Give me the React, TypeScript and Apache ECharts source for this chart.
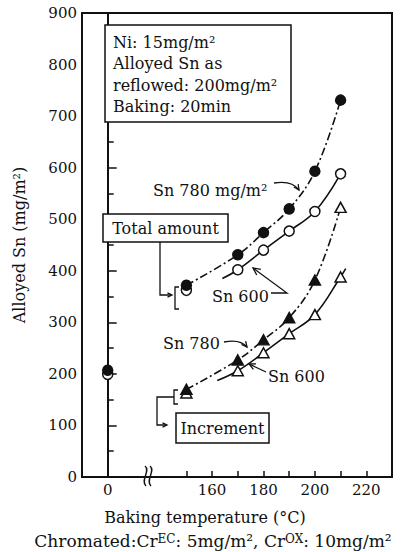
import React, { useEffect, useRef } from 'react';
import * as echarts from 'echarts';

// ---- data ----
const TEMPS = [150, 170, 180, 190, 200, 210];
const TOTAL_780 = [372, 431, 474, 520, 593, 731];
const TOTAL_600 = [362, 402, 440, 477, 515, 588];
const INCR_780 = [170, 227, 266, 309, 382, 523];
const INCR_600 = [163, 206, 241, 278, 315, 388];
const REFLOWED_TEMP = 0;
const REFLOWED_780 = 207;
const REFLOWED_600 = 199;
// where the drawn fitting curves start / end
const TOTAL_600_CURVE_START = [164, 385];
const INCR_600_CURVE_START = [162, 187];
const INCR_600_CURVE_END = [212, 404];

const X_TICKS = [0, 150, 160, 170, 180, 190, 200, 210, 220];
const X_LABELS = [0, 160, 180, 200, 220];
const Y_MIN = 0;
const Y_MAX = 900;
const Y_STEP = 100;

const FONT = 'DejaVu Serif';
const INK = '#111';
const DASHDOT = [8, 3, 2, 3];

const pts = (xs: number[], ys: number[]) => xs.map((x, i) => [x, ys[i]]);

function arrowHead(tx: number, ty: number, fx: number, fy: number, len = 7, ang = 0.45) {
  const a = Math.atan2(fy - ty, fx - tx);
  return {
    type: 'polyline',
    shape: {
      points: [
        [tx + len * Math.cos(a + ang), ty + len * Math.sin(a + ang)],
        [tx, ty],
        [tx + len * Math.cos(a - ang), ty + len * Math.sin(a - ang)],
      ],
    },
    style: { stroke: INK, lineWidth: 1.3, fill: null },
  };
}

function txt(x: number, y: number, text: string, align = 'left', size = 16) {
  return {
    type: 'text',
    x,
    y,
    style: {
      text,
      fill: INK,
      font: `${size}px "${FONT}"`,
      textAlign: align,
      textVerticalAlign: 'middle',
    },
    z: 10,
  };
}

const line = (points: number[][], w = 1.3) => ({
  type: 'polyline',
  shape: { points },
  style: { stroke: INK, lineWidth: w, fill: null },
  z: 10,
});

export default function App() {
  const ref = useRef<HTMLDivElement>(null);
  useEffect(() => {
    if (!ref.current) return;
    const chart = echarts.init(ref.current, undefined, { renderer: 'svg' });
    const axisFont = { color: INK, fontFamily: FONT, fontSize: 15 };

    const curveStyle = (dash: any) => ({
      type: 'line',
      smooth: 0.4,
      symbol: 'none',
      silent: true,
      lineStyle: { color: INK, width: 1.6, type: dash },
      z: 2,
    });

    const scatter = (data: any[], symbol: string, filled: boolean, z = 5) => ({
      type: 'scatter',
      data,
      symbol,
      symbolSize: symbol === 'triangle' ? [11, 10] : 10,
      itemStyle: {
        color: filled ? INK : '#fff',
        borderColor: INK,
        borderWidth: 1.5,
        opacity: 1,
      },
      z,
    });

    const incr780Data = pts(TEMPS, INCR_780).map((p, i) =>
      i === TEMPS.length - 1 ? { value: p, itemStyle: { color: '#fff' } } : { value: p }
    );

    chart.setOption({
      animation: false,
      backgroundColor: '#fff',
      grid: {
        left: 82,
        right: 12,
        top: 13,
        bottom: 75,
        show: true,
        borderColor: INK,
        borderWidth: 2,
        outerBoundsMode: 'none',
      },
      xAxis: {
        type: 'value',
        min: -10,
        max: 230,
        breaks: [{ start: 10, end: 140, gap: '8.8%' }],
        breakArea: { show: false },
        axisLine: { lineStyle: { color: INK, width: 2 } },
        axisTick: {
          inside: true,
          length: 6,
          customValues: X_TICKS,
          lineStyle: { color: INK, width: 1.5 },
        },
        axisLabel: { ...axisFont, margin: 5, customValues: X_LABELS },
        splitLine: { show: false },
      },
      yAxis: {
        type: 'value',
        min: Y_MIN,
        max: Y_MAX,
        interval: Y_STEP,
        name: 'Alloyed Sn (mg/m²)',
        nameLocation: 'middle',
        nameGap: 55,
        nameTextStyle: { ...axisFont, fontSize: 16 },
        axisLine: { show: true, lineStyle: { color: INK, width: 2 } },
        axisTick: { inside: true, length: 9, lineStyle: { color: INK, width: 1.5 } },
        minorTick: { show: true, splitNumber: 2, length: 6, lineStyle: { color: INK, width: 1.5 } },
        axisLabel: { ...axisFont, margin: 5 },
        splitLine: { show: false },
      },
      series: [
        { ...curveStyle(DASHDOT), data: pts(TEMPS, TOTAL_780) },
        { ...curveStyle('solid'), data: [TOTAL_600_CURVE_START, ...pts(TEMPS.slice(1), TOTAL_600.slice(1))] },
        { ...curveStyle(DASHDOT), data: pts(TEMPS, INCR_780) },
        {
          ...curveStyle('solid'),
          data: [INCR_600_CURVE_START, ...pts(TEMPS.slice(1), INCR_600.slice(1)), INCR_600_CURVE_END],
        },
        scatter([[REFLOWED_TEMP, REFLOWED_600], ...pts(TEMPS, TOTAL_600)], 'circle', false, 5),
        scatter([[REFLOWED_TEMP, REFLOWED_780], ...pts(TEMPS, TOTAL_780)], 'circle', true, 6),
        scatter(pts(TEMPS, INCR_600), 'triangle', false, 5),
        scatter(incr780Data, 'triangle', true, 6),
      ],
      graphic: [
        // info box
        {
          type: 'rect',
          shape: { x: 105, y: 25, width: 186, height: 97 },
          style: { fill: '#fff', stroke: INK, lineWidth: 1.5 },
          z: 9,
        },
        txt(113, 42, 'Ni: 15mg/m²'),
        txt(113, 63.5, 'Alloyed Sn as'),
        txt(113, 85, 'reflowed: 200mg/m²'),
        txt(113, 106.5, 'Baking: 20min'),
        // total amount box + bracket arrow
        {
          type: 'rect',
          shape: { x: 103, y: 214, width: 125, height: 28 },
          style: { fill: '#fff', stroke: INK, lineWidth: 1.5 },
          z: 9,
        },
        txt(165.5, 228, 'Total amount', 'center'),
        line([[160, 242], [160, 295], [171, 295]]),
        { ...arrowHead(172, 295, 160, 295, 5), z: 10 },
        line([[179, 287], [175, 287], [175, 309], [179, 309]]),
        // increment box + bracket arrow
        {
          type: 'rect',
          shape: { x: 176, y: 413, width: 93, height: 30 },
          style: { fill: '#fff', stroke: INK, lineWidth: 1.5 },
          z: 9,
        },
        txt(222.5, 428, 'Increment', 'center'),
        line([[178, 390], [174, 390], [174, 404], [178, 404]]),
        line([[174, 397], [157, 397], [157, 425], [166, 425]]),
        { ...arrowHead(167, 425, 157, 425, 5), z: 10 },
        // Sn 780 mg/m2 label
        txt(153, 190, 'Sn 780 mg/m²'),
        {
          type: 'bezierCurve',
          shape: { x1: 274, y1: 183, cpx1: 286, cpy1: 181, cpx2: 294, cpy2: 183, x2: 299, y2: 190 },
          style: { stroke: INK, lineWidth: 1.3, fill: null },
          z: 10,
        },
        { ...arrowHead(299, 190, 295, 184, 6), z: 10 },
        // Sn 600 (total)
        txt(212, 296, 'Sn 600'),
        line([[271, 293], [287, 293], [253, 268]]),
        { ...arrowHead(253, 268, 287, 293, 8), z: 10 },
        // Sn 780 (increment)
        txt(163, 343, 'Sn 780'),
        {
          type: 'bezierCurve',
          shape: { x1: 224, y1: 342, cpx1: 234, cpy1: 340, cpx2: 242, cpy2: 341, x2: 247, y2: 347 },
          style: { stroke: INK, lineWidth: 1.3, fill: null },
          z: 10,
        },
        { ...arrowHead(247, 347, 243, 342, 6), z: 10 },
        // Sn 600 (increment)
        txt(268, 376, 'Sn 600'),
        line([[266, 372], [249, 364]]),
        { ...arrowHead(249, 364, 266, 372, 7), z: 10 },
        // axis break squiggle
        {
          type: 'bezierCurve',
          shape: { x1: 145, y1: 466, cpx1: 151, cpy1: 471, cpx2: 140, cpy2: 480, x2: 146, y2: 486 },
          style: { stroke: INK, lineWidth: 1.4, fill: null },
          z: 10,
        },
        {
          type: 'bezierCurve',
          shape: { x1: 150, y1: 466, cpx1: 156, cpy1: 471, cpx2: 145, cpy2: 480, x2: 151, y2: 486 },
          style: { stroke: INK, lineWidth: 1.4, fill: null },
          z: 10,
        },
        // x axis title and footnote
        txt(205, 517, 'Baking temperature (°C)', 'center', 16),
        {
          type: 'text',
          x: 213,
          y: 541,
          style: {
            text: '{a|Chromated:Cr}{s|EC}{a|: 5mg/m², Cr}{s|OX}{a|: 10mg/m²}',
            textAlign: 'center',
            textVerticalAlign: 'middle',
            fill: INK,
            rich: {
              a: { fontFamily: FONT, fontSize: 17, color: INK, verticalAlign: 'bottom' },
              s: { fontFamily: FONT, fontSize: 12, color: INK, verticalAlign: 'top' },
            },
          },
          z: 10,
        },
      ],
    });
    return () => chart.dispose();
  }, []);
  return (
    <div
      ref={ref}
      style={{ position: 'fixed', left: 0, top: 0, width: 404, height: 552, background: '#fff' }}
    />
  );
}
